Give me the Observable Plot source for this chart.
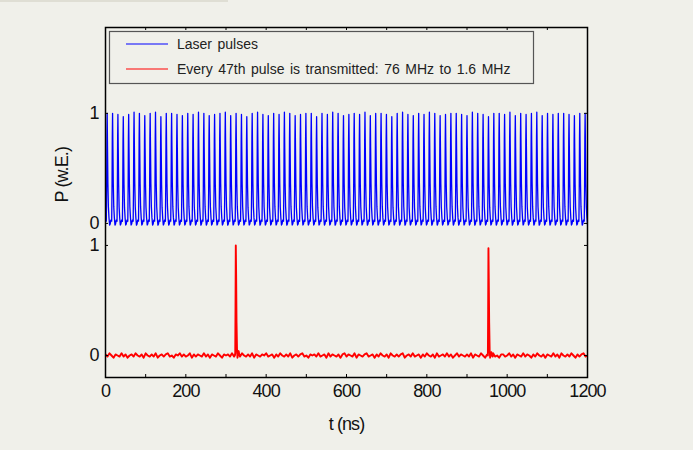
<!DOCTYPE html>
<html>
<head>
<meta charset="utf-8">
<script src="https://cdn.jsdelivr.net/npm/d3@7"></script>
<script src="https://cdn.jsdelivr.net/npm/@observablehq/plot@0.6"></script>
<style>
  html, body { margin: 0; padding: 0; background: #f0f0ea; }
  #strip { position: absolute; left: 0; top: 0; width: 228px; height: 2px; background: #dfded4; }
  #chart { position: absolute; left: 0; top: 0; }
</style>
</head>
<body>
<div id="strip"></div>
<div id="chart"></div>
<script>
// ---------- data ----------
const xLabel = "t (ns)";
const yLabel = "P (w.E.)";
const seriesNames = ["Laser pulses", "Every 47th pulse is transmitted: 76 MHz to 1.6 MHz"];
const seriesColors = ["#0000ff", "#ff0000"];

const xTickValues = [0, 200, 400, 600, 800, 1000, 1200];
const xTickLabels = ["0", "200", "400", "600", "800", "1000", "1200"];
const xMinorTicks = [0, 100, 200, 300, 400, 500, 600, 700, 800, 900, 1000, 1100, 1200];
const yTickValues = [0, 1, 1.2, 2.2];          // lower panel 0,1 ; upper panel 0,1 (offset 1.2)
const yTickLabels = ["0", "1", "0", "1"];
const upperOffset = 1.2;

// Laser pulses: peak times (ns) and peak heights
const pulseTimes = [4.2,17.6,30.9,44.3,57.7,71.1,84.4,97.8,111.2,124.5,137.9,151.3,164.6,178.0,191.4,204.8,218.1,231.5,244.9,258.2,
  271.6,285.0,298.3,311.7,325.1,338.5,351.8,365.2,378.6,391.9,405.3,418.7,432.1,445.4,458.8,472.2,485.5,498.9,512.3,525.6,
  539.0,552.4,565.7,579.1,592.5,605.9,619.2,632.6,646.0,659.3,672.7,686.1,699.4,712.8,726.2,739.6,752.9,766.3,779.7,793.0,
  806.4,819.8,833.1,846.5,859.9,873.2,886.6,900.0,913.4,926.7,940.1,953.5,966.8,980.2,993.6,1006.9,1020.3,1033.7,1047.1,1060.4,
  1073.8,1087.2,1100.5,1113.9,1127.3,1140.7,1154.0,1167.4,1180.8,1194.1];
const pulseHeights = [1.0,1.0,0.99,0.97,0.99,1.01,1.0,0.98,1.0,1.01,0.97,1.0,1.0,0.99,0.98,1.0,0.99,1.01,1.0,0.98,
  0.99,1.0,1.01,0.98,1.0,0.99,0.97,1.0,1.01,0.99,0.98,1.0,0.99,1.01,1.0,0.98,0.99,1.0,1.0,0.97,
  1.0,0.99,1.01,1.0,0.98,0.99,1.0,0.99,1.01,0.98,1.0,1.0,0.99,0.97,1.0,1.01,0.99,0.98,1.0,0.99,
  1.01,1.0,0.98,0.99,1.0,1.0,0.99,0.98,1.01,1.0,0.99,0.97,1.0,1.0,0.99,1.01,0.98,1.0,0.99,1.0,
  1.01,0.98,1.0,0.99,1.0,1.0,0.99,0.98,1.0,1.0];
// shape of one pulse around its peak (offset ns, relative level)
const pulseShapeT = [-2.2, -1.4, -0.7, 0, 0.8, 1.8, 3.0, 4.5, 6.0, 7.5, 9.0, 10.6];
const pulseShapeV = [0.02, 0.3, 0.78, 1.0, 0.7, 0.36, 0.15, 0.05, -0.015, -0.005, 0.03, 0.02];

// Transmitted pulses: baseline noise every 5 ns from 0 to 1200 ns
const noiseLevels = [
 0.01,-0.01,0.02,0,-0.02,0.01,0,-0.01,0.02,-0.01,0.01,-0.02,0,0.01,-0.01,0.02,0,-0.01,0.01,-0.02,
 0.02,0,-0.01,0.01,-0.01,0.02,-0.02,0,0.01,-0.01,0.01,0.02,-0.01,0,-0.02,0.01,0,0.02,-0.01,0.01,
 -0.01,0,0.02,-0.02,0.01,-0.01,0.01,0,-0.01,0.02,-0.01,0.01,-0.02,0.01,0,-0.01,0.02,0,-0.02,0.01,
 0,0.01,-0.01,0.02,-0.01,0,0.01,-0.02,0.02,0,-0.01,0.01,-0.01,0.02,-0.02,0.01,0,-0.01,0.01,0,
 0.02,-0.01,0,0.01,-0.02,0.01,-0.01,0.02,0,-0.01,0.01,-0.01,0.02,-0.02,0,0.01,-0.01,0.01,0.02,-0.01,
 0,-0.02,0.01,0,0.01,-0.01,0.02,-0.01,0,0.01,-0.02,0.02,-0.01,0.01,0,-0.01,0.01,-0.02,0.01,0.02,
 -0.01,0.01,0,-0.01,0.02,-0.02,0.01,0,-0.01,0.01,0.02,-0.01,0,0.01,-0.02,0.01,-0.01,0.02,0,-0.01,
 0.01,-0.02,0.02,0,-0.01,0.01,-0.01,0.01,0.02,-0.02,0,0.01,-0.01,0.02,-0.01,0,0.01,-0.02,0.01,-0.01,
 0.02,0,-0.01,0.01,-0.02,0.02,-0.01,0,0.01,-0.01,0.02,-0.01,0.01,-0.02,0,0.02,-0.01,0.01,0,-0.01,
 0.01,-0.01,0.02,-0.02,0.01,0,-0.01,0.02,0,-0.02,0.01,-0.01,0.01,0.02,-0.01,0,-0.02,0.01,0.01,-0.01,
 0,0.02,-0.01,0.01,-0.02,0.01,0,-0.01,0.02,-0.01,0.01,0,-0.02,0.01,-0.01,0.02,0,-0.01,0.01,-0.02,
 0.01,0,-0.01,0.02,-0.01,0.01,-0.02,0.02,0,-0.01,0.01,-0.01,0.02,0,-0.02,0.01,-0.01,0.01,0.02,-0.01,0];
const noiseStep = 5;
// the two transmitted pulses
const spike1T = [322.0, 323.0, 323.7, 324.4, 325.2, 326.2, 327.4, 328.6, 330.0, 331.5, 333.0, 335.0];
const spike1V = [0.0, 0.02, 0.45, 1.0, 0.74, 0.3, 0.06, -0.02, 0.01, 0.04, 0.01, -0.01];
const spike2T = [951.0, 952.0, 952.7, 953.4, 954.2, 955.2, 956.4, 957.6, 959.0, 960.5, 962.0, 964.0];
const spike2V = [0.01, 0.0, 0.42, 0.975, 0.7, 0.3, 0.05, -0.02, 0.02, 0.03, 0.0, -0.01];

// ---------- build tables ----------
const blue = [];
pulseTimes.forEach((tp, i) => {
  pulseShapeT.forEach((o, j) => {
    blue.push({t: tp + o, v: upperOffset + pulseShapeV[j] * pulseHeights[i]});
  });
});
const red = [];
noiseLevels.forEach((v, i) => {
  const t = i * noiseStep;
  if ((t >= spike1T[0] && t <= spike1T[spike1T.length - 1]) || (t >= spike2T[0] && t <= spike2T[spike2T.length - 1])) return;
  red.push({t, v});
});
spike1T.forEach((t, i) => red.push({t, v: spike1V[i]}));
spike2T.forEach((t, i) => red.push({t, v: spike2V[i]}));
red.sort((a, b) => a.t - b.t);

const numFont = "'Liberation Sans', Arial, Helvetica, sans-serif";

const chart = Plot.plot({
  width: 693,
  height: 450,
  marginLeft: 105,
  marginRight: 106,
  marginTop: 27,
  marginBottom: 73,
  style: {background: "transparent", fontFamily: numFont, fontSize: "18px", color: "#111", letterSpacing: "-0.9px"},
  x: {domain: [0, 1200]},
  y: {domain: [-0.2, 2.98]},
  marks: [
    Plot.line(blue, {x: "t", y: "v", stroke: seriesColors[0], strokeWidth: 1.3, clip: true}),
    Plot.line(red, {x: "t", y: "v", stroke: seriesColors[1], strokeWidth: 1.9, clip: true}),
    // inward ticks
    Plot.tickX(xMinorTicks, {x: d => d, insetTop: 347, stroke: "#000"}),
    Plot.tickX(xMinorTicks, {x: d => d, insetBottom: 347, stroke: "#000"}),
    Plot.tickY(yTickValues, {y: d => d, insetRight: 479, stroke: "#000"}),
    Plot.tickY(yTickValues, {y: d => d, insetLeft: 479, stroke: "#000"}),
    Plot.axisX({ticks: xTickValues, tickSize: 0, tickPadding: 7, label: null, fontSize: 18,
      tickFormat: d => xTickLabels[xTickValues.indexOf(d)]}),
    Plot.axisY({ticks: yTickValues, tickSize: 0, tickPadding: 7, label: null, fontSize: 18,
      tickFormat: d => yTickLabels[yTickValues.indexOf(d)]}),
    Plot.text([yLabel], {frameAnchor: "left", dx: -43, rotate: -90, fontSize: 18}),
    Plot.text([xLabel], {frameAnchor: "bottom", dy: 52, fontSize: 18}),
    Plot.frame({stroke: "#000", strokeWidth: 1.5})
  ]
});
document.getElementById("chart").appendChild(chart);

// legend inside the frame
const svg = d3.select(chart);
const lg = svg.append("g")
  .attr("font-family", "'Liberation Sans', Arial, sans-serif")
  .attr("font-size", 14)
  .attr("letter-spacing", "0px")
  .attr("word-spacing", "1.6px")
  .attr("text-anchor", "start")
  .attr("fill", "#222");
lg.append("rect").attr("x", 109.5).attr("y", 31.5).attr("width", 424).attr("height", 52)
  .attr("fill", "none").attr("stroke", "#555").attr("stroke-width", 1.2);
seriesNames.forEach((name, i) => {
  const y = 44 + i * 25;
  lg.append("line").attr("x1", 126).attr("x2", 168).attr("y1", y).attr("y2", y)
    .attr("stroke", seriesColors[i]).attr("stroke-width", 1.2);
  lg.append("text").attr("x", 177).attr("y", y).attr("dy", "0.35em").attr("text-anchor", "start").text(name);
});
</script>
</body>
</html>
